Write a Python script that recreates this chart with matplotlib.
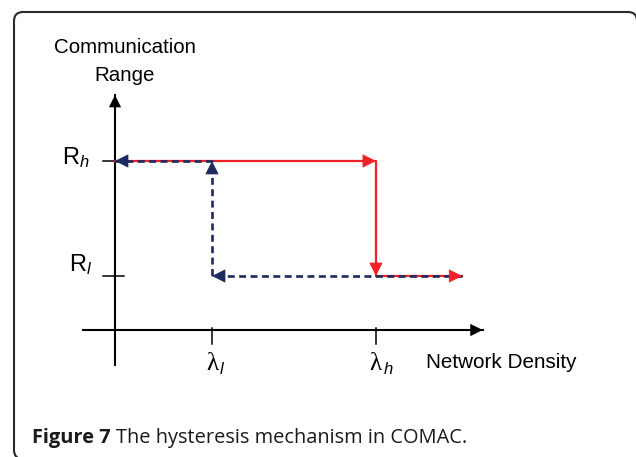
import numpy as np
import matplotlib
matplotlib.use("Agg")
import matplotlib.pyplot as plt
from matplotlib.patches import PathPatch
from matplotlib.path import Path
from matplotlib.transforms import IdentityTransform

plt.rcParams['font.family'] = ['Liberation Sans', 'DejaVu Sans']
plt.rcParams['mathtext.fontset'] = 'custom'
plt.rcParams['mathtext.rm'] = 'Liberation Sans'
plt.rcParams['mathtext.it'] = 'Liberation Sans:italic'
plt.rcParams['lines.scale_dashes'] = False

# density thresholds and the two communication ranges
lam_l, lam_h = 1.0, 2.69
R_l, R_h = 1.0, 3.13
x_end = 3.58

# red: density going up, blue: density going down
red_x = [0, lam_h, lam_h, x_end]
red_y = [R_h, R_h, R_l, R_l]
blue_x = [x_end, lam_l, lam_l, 0]
blue_y = [R_l, R_l, R_h, R_h]

RED = "#ee2127"
NAVY = "#1d2a5e"


def arrow_head(ax, p0, p1, color, scale=22):
    """Filled head at p1, pointing from p0 towards p1."""
    p0 = np.asarray(p0, float)
    p1 = np.asarray(p1, float)
    d = (p1 - p0) / np.hypot(*(p1 - p0))
    ax.annotate("", xy=p1, xytext=p1 - d * 1e-3,
                arrowprops=dict(arrowstyle="-|>", color=color, lw=0.5,
                                mutation_scale=scale, shrinkA=0, shrinkB=0))


fig = plt.figure(figsize=(6.36, 4.57), dpi=100)
ax = fig.add_axes([0, 0, 1, 1])
ax.set_xlim(-115 / 97, (636 - 115) / 97)
ax.set_ylim(-(457 - 330) / 54, 330 / 54)
ax.axis("off")

# frame: left side and top with rounded corners, running off the right/bottom
L, T, Rx, B, r = 14, 445, 637, -2, 9
verts = [(Rx, T - r), (Rx, T), (Rx - r, T), (L + r, T), (L, T), (L, T - r),
         (L, B + r), (L, B), (L + r, B)]
codes = [Path.MOVETO, Path.CURVE3, Path.CURVE3, Path.LINETO, Path.CURVE3,
         Path.CURVE3, Path.LINETO, Path.CURVE3, Path.CURVE3]
frame = PathPatch(Path(verts, codes), transform=IdentityTransform(),
                  fill=False, edgecolor="#2b2b2b", lw=1.5)
fig.add_artist(frame)

# axes with arrows
ax.plot([-0.33, 3.79], [0, 0], color="black", lw=1.5)
arrow_head(ax, (0, 0), (3.79, 0), "black", scale=20)
ax.plot([0, 0], [-0.65, 4.35], color="black", lw=1.5)
arrow_head(ax, (0, 0), (0, 4.35), "black", scale=20)

# tick marks
for rr in (R_l, R_h):
    ax.plot([-0.125, 0.093], [rr, rr], color="black", lw=1.1)
for lam in (lam_l, lam_h):
    ax.plot([lam, lam], [0.04, -0.26], color="black", lw=1.1)

# red path (solid)
ax.plot(red_x, red_y, color=RED, lw=1.6)
for i in range(1, len(red_x)):
    arrow_head(ax, (red_x[i - 1], red_y[i - 1]), (red_x[i], red_y[i]), RED)

# blue path (dashed)
ax.plot(blue_x, blue_y, color=NAVY, lw=1.9, dashes=(5, 3.2))
for i in range(1, len(blue_x)):
    arrow_head(ax, (blue_x[i - 1], blue_y[i - 1]), (blue_x[i], blue_y[i]), NAVY)

# labels
ax.text(0.10, 5.13, "Communication", ha="center", va="baseline", fontsize=14.8)
ax.text(0.10, 4.61, "Range", ha="center", va="baseline", fontsize=14.8)
ax.text(-0.26, 3.07, r"R$_{\mathit{h}}$", ha="right", va="baseline", fontsize=17)
ax.text(-0.237, 1.09, r"R$_{\mathit{l}}$", ha="right", va="baseline", fontsize=17)
ax.text(3.206, -0.70, "Network Density", ha="left", va="baseline", fontsize=14.9)

for lam, sub in ((lam_l, "l"), (lam_h, "h")):
    ax.annotate("\u03bb", xy=(lam, -0.74), ha="center", va="baseline",
                fontsize=18, family="Liberation Serif")
    ax.annotate(sub, xy=(lam, -0.74), xytext=(5.5, -3), textcoords="offset points",
                ha="left", va="baseline", fontsize=12, style="italic")

# caption: bold lead-in, then regular text
cap_y = 1 - 443 / 457
cap1 = fig.text(32 / 636, cap_y, "Figure 7", fontsize=14.4,
                fontweight="bold", family="Open Sans", color="#1a1a1a")
fig.canvas.draw()
bb = cap1.get_window_extent()
fig.text((bb.x1 + 5) / 636, cap_y, "The hysteresis mechanism in COMAC.",
         fontsize=14.4, family="Open Sans", color="#1a1a1a")

fig.savefig("out.png", dpi=100)
